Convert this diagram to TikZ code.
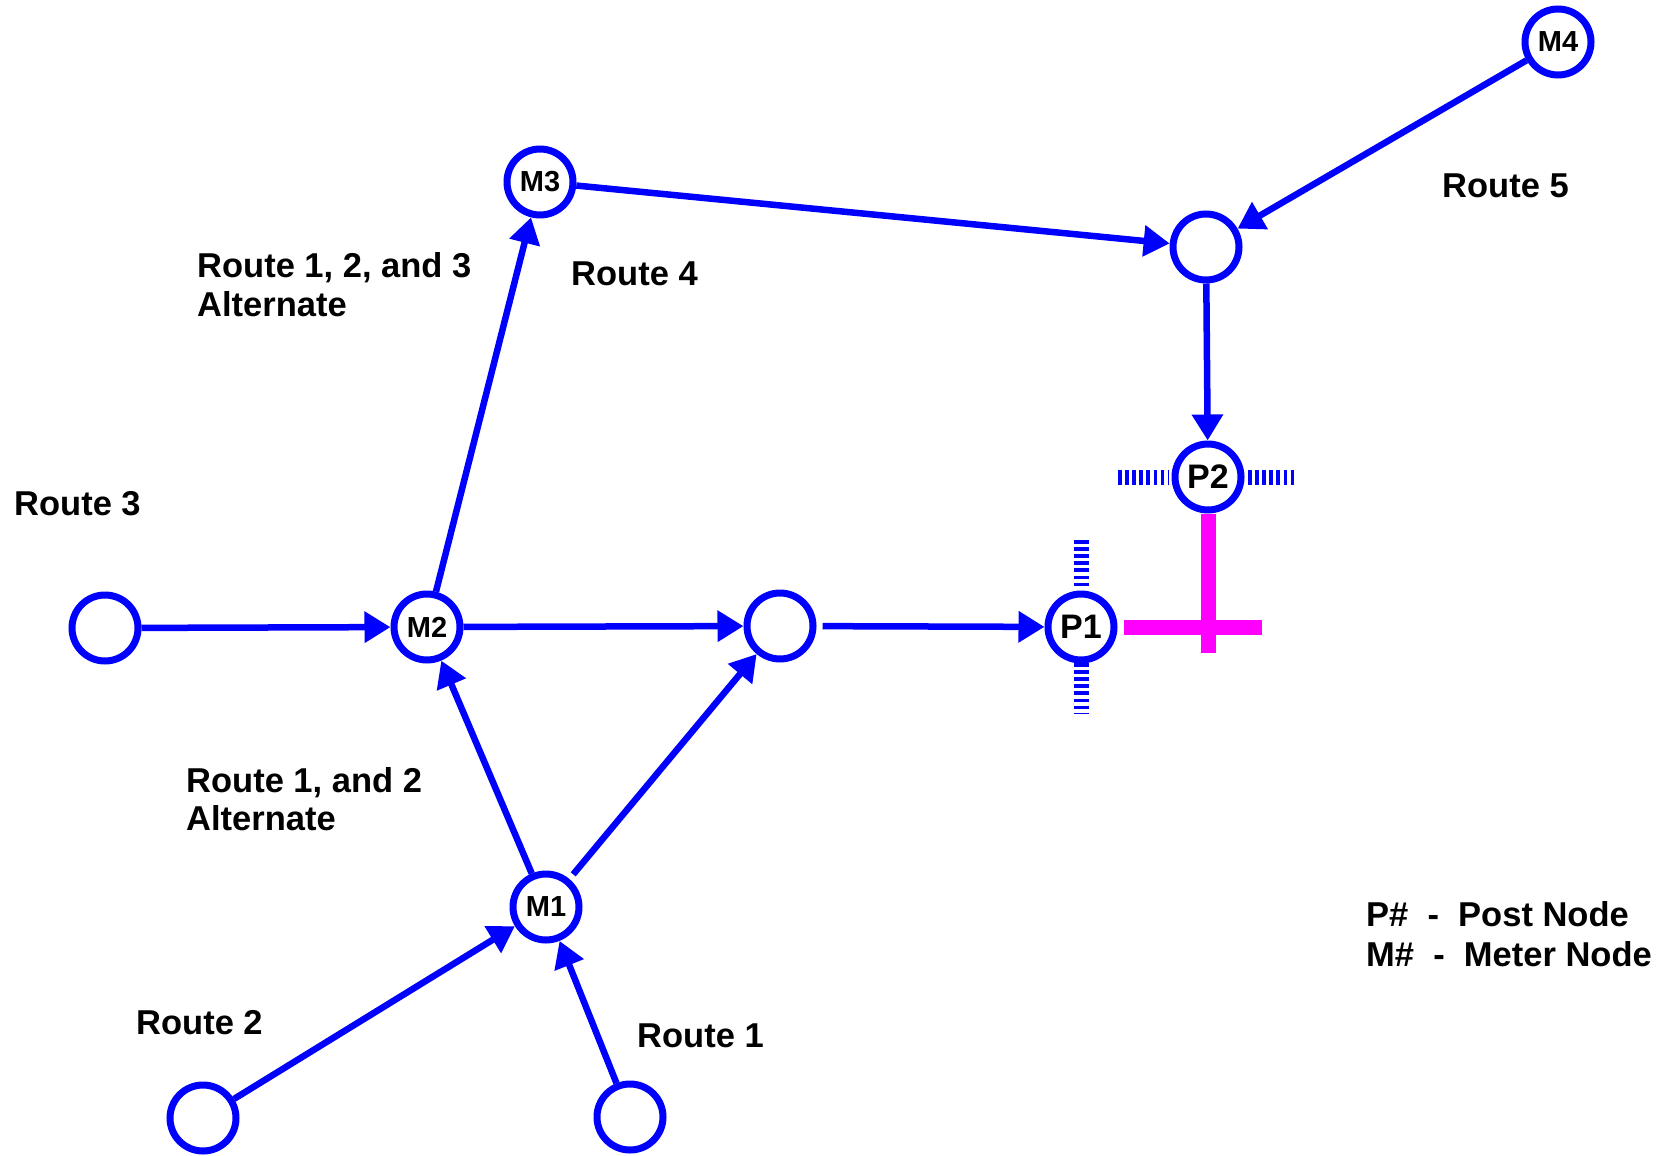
\documentclass[tikz,border=0pt]{standalone}
\usepackage{fontspec}
\setmainfont{Liberation Sans}
\usetikzlibrary{arrows.meta,calc}
\definecolor{nblue}{HTML}{0000FF}
\definecolor{nmag}{HTML}{FF00FF}
\begin{document}
\begin{tikzpicture}[x=1pt,y=-1pt,
 nd/.style={circle,draw=nblue,line width=7pt,minimum size=66pt,inner sep=0pt,font=\fontsize{29}{32}\selectfont\bfseries},
 pn/.style={nd,font=\fontsize{34}{36}\selectfont\bfseries},
 lbl/.style={anchor=base west,inner sep=0pt,font=\fontsize{34.5}{41}\selectfont\bfseries},
 conn/.style={draw=nblue,line width=6.5pt,-{Triangle[length=26pt,width=30pt]}},
 stub/.style={draw=nblue,line width=15pt,dash pattern=on 3.5pt off 3.6pt},
 mag/.style={draw=nmag,line width=15pt}]
\useasboundingbox (0,0) rectangle (1665,1156);
\fill[white] (0,0) rectangle (1665,1156);
% nodes
\node[nd] (M4) at (1558,42) {M4};
\node[nd] (N5) at (1206,247) {};
\node[nd] (M3) at (540,182) {M3};
\node[pn] (P2) at (1208,477) {P2};
\node[pn] (P1) at (1081,627) {P1};
\node[nd] (M2) at (427,627) {M2};
\node[nd] (Mid) at (780,626) {};
\node[nd] (L3) at (105,628) {};
\node[nd] (M1) at (546,907) {M1};
\node[nd] (BL) at (203,1118) {};
\node[nd] (BR) at (630,1117) {};
% connectors
\draw[conn] (BL) -- (M1);
\draw[conn] (BR) -- (M1);
\draw[conn] (M1) -- (M2);
\draw[conn,shorten <=6pt] (M1) -- (Mid);
\draw[conn] (L3) -- (M2);
\draw[conn] (M2) -- (Mid);
\draw[conn] (M2) -- (M3);
\draw[conn,shorten <=6pt] (Mid) -- (P1);
\draw[conn] (M3) -- (N5);
\draw[conn] (M4) -- (N5);
\draw[conn] (N5) -- (P2);
% magenta
\coordinate (MV) at (1208,653);
\coordinate (MH) at (1262,627);
\draw[mag] (P2) -- (MV);
\draw[mag,shorten <=6pt] (P1) -- (MH);
% dashed stubs
\draw[stub] ($(P2.center)+(-90,0)$) -- ($(P2.center)+(-40,0)$);
\draw[stub] ($(P2.center)+(40,0)$) -- ($(P2.center)+(89,0)$);
\draw[stub] ($(P1.center)+(0,-87)$) -- ($(P1.center)+(0,-39)$);
\draw[stub] ($(P1.center)+(0,36)$) -- ($(P1.center)+(0,86)$);
% labels
\node[lbl] (t3) at (14,515) {Route 3};
\node[lbl] (t123) at (197,277) {Route 1, 2, and 3};
\node[lbl] (t123b) at (197,316) {Alternate};
\node[lbl] (t4) at (571,285) {Route 4};
\node[lbl] (t5) at (1442,197) {Route 5};
\node[lbl] (t12) at (186,792) {Route 1, and 2};
\node[lbl] (t12b) at (186,830) {Alternate};
\node[lbl] (t2) at (136,1034) {Route 2};
\node[lbl] (t1) at (637,1047) {Route 1};
\node[lbl] (lg1) at (1366,926) {P\#\ \ -\ \ Post Node};
\node[lbl] (lg2) at (1366,966) {M\#\ \ -\ \ Meter Node};
\end{tikzpicture}
\end{document}
